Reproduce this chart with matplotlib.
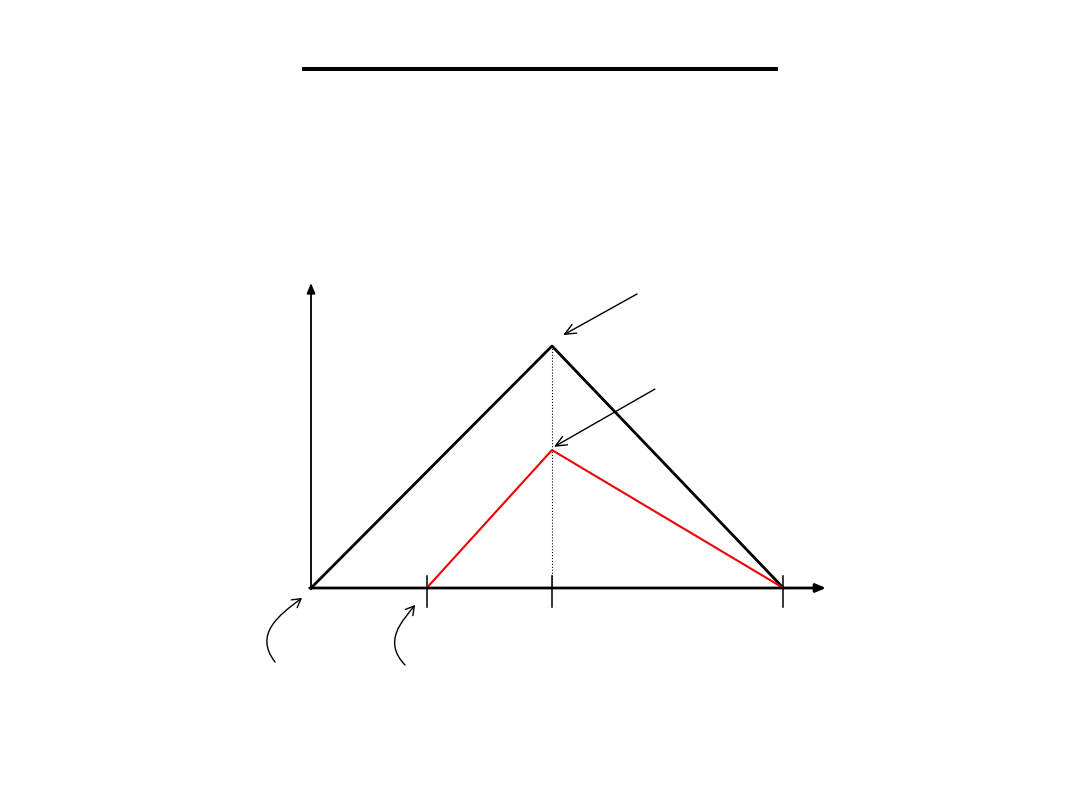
import matplotlib
matplotlib.use("Agg")
import matplotlib.pyplot as plt
from matplotlib.patches import FancyArrowPatch
from matplotlib.path import Path

# time points (arbitrary units) and heights of the two profiles
t_start = 0.0
t_delay = 4.8
t_peak = 10.0
t_end = 19.6

black_x = [t_start, t_peak, t_end]
black_y = [0.0, 10.0, 0.0]

red_x = [t_delay, t_peak, t_end]
red_y = [0.0, 5.7, 0.0]

tick_x = [t_delay, t_peak, t_end]

fig = plt.figure(figsize=(10.8, 8.1), dpi=100)
ax = fig.add_axes([0, 0, 1, 1])
ax.set_xlim(-12.905, 31.909)
ax.set_ylim(-9.174, 24.298)
ax.axis("off")

# title bar
fig.add_artist(plt.Line2D([302 / 1080, 778 / 1080], [1 - 69 / 810, 1 - 69 / 810],
                          color="black", lw=2.9, solid_capstyle="butt"))

# axes with arrow heads
ax.annotate("", xy=(0, 12.6), xytext=(0, -0.05),
            arrowprops=dict(arrowstyle="-|>,head_length=0.6,head_width=0.25",
                            color="black", lw=1.3, shrinkA=0, shrinkB=0))
ax.annotate("", xy=(21.37, 0), xytext=(-0.05, 0),
            arrowprops=dict(arrowstyle="-|>,head_length=0.6,head_width=0.25",
                            color="black", lw=2, shrinkA=0, shrinkB=0))

# ticks below the axis
for tx in tick_x:
    ax.plot([tx, tx], [0.5, -0.8], color="black", lw=1.1)

# dotted drop line from peak
ax.plot([t_peak, t_peak], [0, black_y[1]], color="black", lw=0.8, ls=":")

ax.plot(black_x, black_y, color="black", lw=2)
ax.plot(red_x, red_y, color="#ee0000", lw=1.5)

# pointer arrows
arrow_kw = dict(arrowstyle="->,head_length=0.8,head_width=0.35", color="black", lw=1,
                shrinkA=0, shrinkB=0)
ax.annotate("", xy=(10.46, 10.45), xytext=(13.53, 12.15), arrowprops=arrow_kw)
ax.annotate("", xy=(10.08, 5.83), xytext=(14.27, 8.22), arrowprops=arrow_kw)

# curved (S-shaped) arrows at the bottom
curves = [
    [(-1.49, -3.06), (-2.4, -1.9), (-1.3, -1.1), (-0.37, -0.41)],
    [(3.9, -3.18), (2.95, -2.2), (3.8, -1.35), (4.32, -0.70)],
]
for pts in curves:
    path = Path(pts, [Path.MOVETO, Path.CURVE4, Path.CURVE4, Path.CURVE4])
    ax.add_patch(FancyArrowPatch(path=path, transform=ax.transData,
                                 arrowstyle="->,head_length=6,head_width=3.5",
                                 color="black", lw=1, shrinkA=0, shrinkB=0))

fig.savefig("out.png", dpi=100)
